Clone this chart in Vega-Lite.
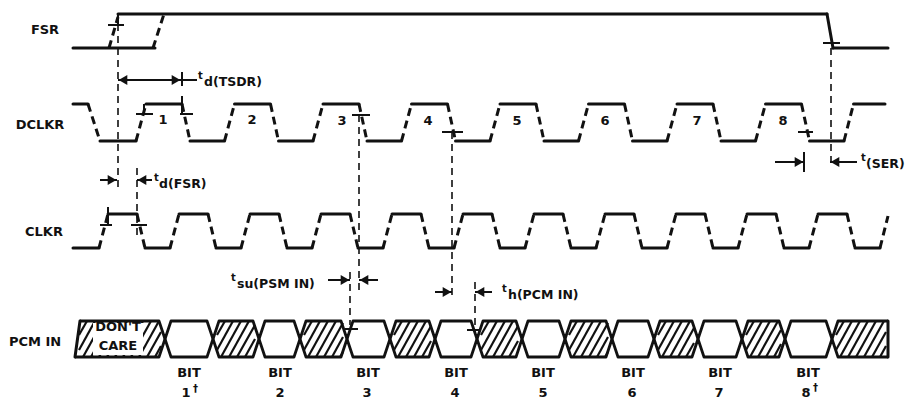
{
"$schema": "https://vega.github.io/schema/vega-lite/v6.json",
"width": 913, "height": 401, "padding": 0,
"autosize": {"type": "fit", "contains": "padding"},
"background": "white",
"config": {"view": {"stroke": null}},
"datasets": {
"flat": [
{"x":73,"y":48,"x2":155,"y2":48},{"x":118,"y":14,"x2":827,"y2":14},{"x":827,"y":14,"x2":833,"y2":48},{"x":833,"y":48,"x2":888,"y2":48},
{"x":73,"y":104,"x2":88,"y2":104},{"x":100,"y":141,"x2":136,"y2":141},{"x":146,"y":104,"x2":182,"y2":104},{"x":190,"y":141,"x2":224.5,"y2":141},
{"x":234.5,"y":104,"x2":270.5,"y2":104},{"x":278.5,"y":141,"x2":313,"y2":141},{"x":323,"y":104,"x2":359,"y2":104},{"x":367,"y":141,"x2":401.5,"y2":141},
{"x":411.5,"y":104,"x2":447.5,"y2":104},{"x":455.5,"y":141,"x2":490,"y2":141},{"x":500,"y":104,"x2":536,"y2":104},{"x":544,"y":141,"x2":578.5,"y2":141},
{"x":588.5,"y":104,"x2":624.5,"y2":104},{"x":632.5,"y":141,"x2":667,"y2":141},{"x":677,"y":104,"x2":713,"y2":104},{"x":721,"y":141,"x2":755.5,"y2":141},
{"x":765.5,"y":104,"x2":801.5,"y2":104},{"x":809.5,"y":141,"x2":844,"y2":141},{"x":853.5,"y":104,"x2":885,"y2":104},
{"x":73,"y":248,"x2":99,"y2":248},
{"x":108,"y":214,"x2":137,"y2":214},{"x":145,"y":248,"x2":170,"y2":248},
{"x":179,"y":214,"x2":208,"y2":214},{"x":216,"y":248,"x2":241,"y2":248},
{"x":250,"y":214,"x2":279,"y2":214},{"x":287,"y":248,"x2":312,"y2":248},
{"x":321,"y":214,"x2":350,"y2":214},{"x":358,"y":248,"x2":383,"y2":248},
{"x":392,"y":214,"x2":421,"y2":214},{"x":429,"y":248,"x2":454,"y2":248},
{"x":463,"y":214,"x2":492,"y2":214},{"x":500,"y":248,"x2":525,"y2":248},
{"x":534,"y":214,"x2":563,"y2":214},{"x":571,"y":248,"x2":596,"y2":248},
{"x":605,"y":214,"x2":634,"y2":214},{"x":642,"y":248,"x2":667,"y2":248},
{"x":676,"y":214,"x2":705,"y2":214},{"x":713,"y":248,"x2":738,"y2":248},
{"x":747,"y":214,"x2":776,"y2":214},{"x":784,"y":248,"x2":809,"y2":248},
{"x":818,"y":214,"x2":847,"y2":214},{"x":855,"y":248,"x2":880,"y2":248},
{"x":75,"y":357,"x2":80,"y2":321},{"x":888,"y":321,"x2":888,"y2":357}
],
"edge": [
{"x":109,"y":48,"x2":118,"y2":17},{"x":153,"y":48,"x2":164,"y2":14},
{"x":88,"y":104,"x2":100,"y2":141},{"x":136,"y":141,"x2":146,"y2":104},{"x":182,"y":104,"x2":190,"y2":141},{"x":224.5,"y":141,"x2":234.5,"y2":104},
{"x":270.5,"y":104,"x2":278.5,"y2":141},{"x":313,"y":141,"x2":323,"y2":104},{"x":359,"y":104,"x2":367,"y2":141},{"x":401.5,"y":141,"x2":411.5,"y2":104},
{"x":447.5,"y":104,"x2":455.5,"y2":141},{"x":490,"y":141,"x2":500,"y2":104},{"x":536,"y":104,"x2":544,"y2":141},{"x":578.5,"y":141,"x2":588.5,"y2":104},
{"x":624.5,"y":104,"x2":632.5,"y2":141},{"x":667,"y":141,"x2":677,"y2":104},{"x":713,"y":104,"x2":721,"y2":141},{"x":755.5,"y":141,"x2":765.5,"y2":104},
{"x":801.5,"y":104,"x2":809.5,"y2":141},{"x":844,"y":141,"x2":853.5,"y2":104},
{"x":99,"y":248,"x2":108,"y2":214},
{"x":137,"y":214,"x2":145,"y2":248},{"x":170,"y":248,"x2":179,"y2":214},
{"x":208,"y":214,"x2":216,"y2":248},{"x":241,"y":248,"x2":250,"y2":214},
{"x":279,"y":214,"x2":287,"y2":248},{"x":312,"y":248,"x2":321,"y2":214},
{"x":350,"y":214,"x2":358,"y2":248},{"x":383,"y":248,"x2":392,"y2":214},
{"x":421,"y":214,"x2":429,"y2":248},{"x":454,"y":248,"x2":463,"y2":214},
{"x":492,"y":214,"x2":500,"y2":248},{"x":525,"y":248,"x2":534,"y2":214},
{"x":563,"y":214,"x2":571,"y2":248},{"x":596,"y":248,"x2":605,"y2":214},
{"x":634,"y":214,"x2":642,"y2":248},{"x":667,"y":248,"x2":676,"y2":214},
{"x":705,"y":214,"x2":713,"y2":248},{"x":738,"y":248,"x2":747,"y2":214},
{"x":776,"y":214,"x2":784,"y2":248},{"x":809,"y":248,"x2":818,"y2":214},
{"x":847,"y":214,"x2":855,"y2":248},{"x":880,"y":248,"x2":888,"y2":216}
],
"guide": [
{"x":118,"y":24,"x2":118,"y2":190},{"x":831,"y":48,"x2":831,"y2":168},{"x":359,"y":115,"x2":359,"y2":290},{"x":350,"y":272,"x2":350,"y2":325},
{"x":452,"y":132,"x2":452,"y2":298},{"x":475,"y":282,"x2":475,"y2":332},{"x":137,"y":168,"x2":137,"y2":235}
],
"thin": [
{"x":118,"y":80,"x2":181,"y2":80},{"x":182,"y":80,"x2":197,"y2":80},{"x":100,"y":180,"x2":117,"y2":180},{"x":137,"y":180,"x2":152,"y2":180},
{"x":328,"y":280,"x2":350,"y2":280},{"x":359,"y":280,"x2":378,"y2":280},{"x":435,"y":292,"x2":452,"y2":292},{"x":475,"y":292,"x2":492,"y2":292},
{"x":775,"y":162,"x2":804,"y2":162},{"x":830,"y":162,"x2":857,"y2":162},
{"x":182,"y":72,"x2":182,"y2":86},{"x":182,"y":96,"x2":182,"y2":114},{"x":804,"y":152,"x2":804,"y2":172},{"x":118,"y":14,"x2":118,"y2":24},{"x":144,"y":104,"x2":144,"y2":114},{"x":108,"y":207,"x2":108,"y2":226},
{"x":108,"y":25,"x2":124,"y2":25},{"x":823,"y":43,"x2":840,"y2":43},{"x":136,"y":114,"x2":153,"y2":114},{"x":180,"y":114,"x2":193,"y2":114},
{"x":352,"y":115,"x2":370,"y2":115},{"x":442,"y":132,"x2":463,"y2":132},{"x":798,"y":132,"x2":813,"y2":132},{"x":100,"y":225,"x2":112,"y2":225},
{"x":131,"y":225,"x2":147,"y2":225},{"x":345,"y":329,"x2":358,"y2":329},{"x":467,"y":330,"x2":479,"y2":330}
],
"hatch": [
{"x":79,"y":335,"x2":87,"y2":321},{"x":79,"y":350,"x2":95,"y2":321},{"x":83,"y":357,"x2":103,"y2":321},{"x":91,"y":357,"x2":111,"y2":321},{"x":99,"y":357,"x2":119,"y2":321},{"x":107,"y":357,"x2":127,"y2":321},{"x":115,"y":357,"x2":135,"y2":321},{"x":123,"y":357,"x2":143,"y2":321},{"x":131,"y":357,"x2":151,"y2":321},{"x":139,"y":357,"x2":159,"y2":321},{"x":147,"y":357,"x2":161,"y2":332},{"x":155,"y":357,"x2":161,"y2":346},
{"x":217,"y":335,"x2":225,"y2":321},{"x":217,"y":350,"x2":233,"y2":321},{"x":221,"y":357,"x2":241,"y2":321},{"x":229,"y":357,"x2":249,"y2":321},{"x":237,"y":357,"x2":255,"y2":325},{"x":245,"y":357,"x2":255,"y2":339},
{"x":304,"y":335,"x2":312,"y2":321},{"x":304,"y":350,"x2":320,"y2":321},{"x":308,"y":357,"x2":328,"y2":321},{"x":316,"y":357,"x2":336,"y2":321},{"x":324,"y":357,"x2":343,"y2":323},{"x":332,"y":357,"x2":343,"y2":337},{"x":340,"y":357,"x2":343,"y2":352},
{"x":394,"y":335,"x2":402,"y2":321},{"x":394,"y":350,"x2":410,"y2":321},{"x":398,"y":357,"x2":418,"y2":321},{"x":406,"y":357,"x2":426,"y2":321},{"x":414,"y":357,"x2":431,"y2":326},{"x":422,"y":357,"x2":431,"y2":341},
{"x":481,"y":335,"x2":489,"y2":321},{"x":481,"y":350,"x2":497,"y2":321},{"x":485,"y":357,"x2":505,"y2":321},{"x":493,"y":357,"x2":513,"y2":321},{"x":501,"y":357,"x2":518,"y2":326},{"x":509,"y":357,"x2":518,"y2":341},
{"x":569,"y":335,"x2":577,"y2":321},{"x":569,"y":350,"x2":585,"y2":321},{"x":573,"y":357,"x2":593,"y2":321},{"x":581,"y":357,"x2":601,"y2":321},{"x":589,"y":357,"x2":608,"y2":323},{"x":597,"y":357,"x2":608,"y2":337},{"x":605,"y":357,"x2":608,"y2":352},
{"x":658,"y":335,"x2":666,"y2":321},{"x":658,"y":350,"x2":674,"y2":321},{"x":662,"y":357,"x2":682,"y2":321},{"x":670,"y":357,"x2":690,"y2":321},{"x":678,"y":357,"x2":694,"y2":328},{"x":686,"y":357,"x2":694,"y2":343},
{"x":746,"y":335,"x2":754,"y2":321},{"x":746,"y":350,"x2":762,"y2":321},{"x":750,"y":357,"x2":770,"y2":321},{"x":758,"y":357,"x2":778,"y2":321},{"x":766,"y":357,"x2":781,"y2":330},{"x":774,"y":357,"x2":781,"y2":344},
{"x":836,"y":335,"x2":844,"y2":321},{"x":836,"y":350,"x2":852,"y2":321},{"x":840,"y":357,"x2":860,"y2":321},{"x":848,"y":357,"x2":868,"y2":321},{"x":856,"y":357,"x2":876,"y2":321},{"x":864,"y":357,"x2":884,"y2":321},{"x":872,"y":357,"x2":886,"y2":332},{"x":880,"y":357,"x2":886,"y2":346}
],
"mask": [{"x":93,"y":323,"x2":143,"y2":355}],
"pcm": [
{"p":"t","x":80,"y":321},
{"p":"t","x":159,"y":321},{"p":"t","x":165,"y":339},{"p":"t","x":171,"y":321},
{"p":"t","x":207,"y":321},{"p":"t","x":213,"y":339},{"p":"t","x":219,"y":321},
{"p":"t","x":253,"y":321},{"p":"t","x":259,"y":339},{"p":"t","x":265,"y":321},
{"p":"t","x":294,"y":321},{"p":"t","x":300,"y":339},{"p":"t","x":306,"y":321},
{"p":"t","x":341,"y":321},{"p":"t","x":347,"y":339},{"p":"t","x":353,"y":321},
{"p":"t","x":384,"y":321},{"p":"t","x":390,"y":339},{"p":"t","x":396,"y":321},
{"p":"t","x":429,"y":321},{"p":"t","x":435,"y":339},{"p":"t","x":441,"y":321},
{"p":"t","x":471,"y":321},{"p":"t","x":477,"y":339},{"p":"t","x":483,"y":321},
{"p":"t","x":516,"y":321},{"p":"t","x":522,"y":339},{"p":"t","x":528,"y":321},
{"p":"t","x":559,"y":321},{"p":"t","x":565,"y":339},{"p":"t","x":571,"y":321},
{"p":"t","x":606,"y":321},{"p":"t","x":612,"y":339},{"p":"t","x":618,"y":321},
{"p":"t","x":648,"y":321},{"p":"t","x":654,"y":339},{"p":"t","x":660,"y":321},
{"p":"t","x":692,"y":321},{"p":"t","x":698,"y":339},{"p":"t","x":704,"y":321},
{"p":"t","x":736,"y":321},{"p":"t","x":742,"y":339},{"p":"t","x":748,"y":321},
{"p":"t","x":779,"y":321},{"p":"t","x":785,"y":339},{"p":"t","x":791,"y":321},
{"p":"t","x":826,"y":321},{"p":"t","x":832,"y":339},{"p":"t","x":838,"y":321},
{"p":"t","x":888,"y":321},
{"p":"b","x":75,"y":357},
{"p":"b","x":159,"y":357},{"p":"b","x":165,"y":339},{"p":"b","x":171,"y":357},
{"p":"b","x":207,"y":357},{"p":"b","x":213,"y":339},{"p":"b","x":219,"y":357},
{"p":"b","x":253,"y":357},{"p":"b","x":259,"y":339},{"p":"b","x":265,"y":357},
{"p":"b","x":294,"y":357},{"p":"b","x":300,"y":339},{"p":"b","x":306,"y":357},
{"p":"b","x":341,"y":357},{"p":"b","x":347,"y":339},{"p":"b","x":353,"y":357},
{"p":"b","x":384,"y":357},{"p":"b","x":390,"y":339},{"p":"b","x":396,"y":357},
{"p":"b","x":429,"y":357},{"p":"b","x":435,"y":339},{"p":"b","x":441,"y":357},
{"p":"b","x":471,"y":357},{"p":"b","x":477,"y":339},{"p":"b","x":483,"y":357},
{"p":"b","x":516,"y":357},{"p":"b","x":522,"y":339},{"p":"b","x":528,"y":357},
{"p":"b","x":559,"y":357},{"p":"b","x":565,"y":339},{"p":"b","x":571,"y":357},
{"p":"b","x":606,"y":357},{"p":"b","x":612,"y":339},{"p":"b","x":618,"y":357},
{"p":"b","x":648,"y":357},{"p":"b","x":654,"y":339},{"p":"b","x":660,"y":357},
{"p":"b","x":692,"y":357},{"p":"b","x":698,"y":339},{"p":"b","x":704,"y":357},
{"p":"b","x":736,"y":357},{"p":"b","x":742,"y":339},{"p":"b","x":748,"y":357},
{"p":"b","x":779,"y":357},{"p":"b","x":785,"y":339},{"p":"b","x":791,"y":357},
{"p":"b","x":826,"y":357},{"p":"b","x":832,"y":339},{"p":"b","x":838,"y":357},
{"p":"b","x":888,"y":357}
],
"heads": [
{"x":123,"y":80,"d":"l"},{"x":176,"y":80,"d":"r"},{"x":112,"y":180,"d":"r"},{"x":142,"y":180,"d":"l"},
{"x":345,"y":280,"d":"r"},{"x":364,"y":280,"d":"l"},{"x":447,"y":292,"d":"r"},{"x":480,"y":292,"d":"l"},
{"x":799,"y":162,"d":"r"},{"x":835,"y":162,"d":"l"}
],
"labels": [
{"x":45,"y":30,"t":"FSR"},{"x":40,"y":125,"t":"DCLKR"},{"x":44,"y":232,"t":"CLKR"},{"x":35,"y":342,"t":"PCM IN"}
],
"nums": [
{"x":163,"y":120,"t":"1"},{"x":252,"y":120,"t":"2"},{"x":342,"y":121,"t":"3"},{"x":428,"y":121,"t":"4"},
{"x":517,"y":121,"t":"5"},{"x":605,"y":121,"t":"6"},{"x":697,"y":121,"t":"7"},{"x":783,"y":121,"t":"8"}
],
"tmain": [
{"x":204,"y":82,"t":"d(TSDR)"},{"x":159,"y":184,"t":"d(FSR)"},{"x":866,"y":164,"t":"(SER)"},
{"x":237,"y":284,"t":"su(PSM IN)"},{"x":508,"y":295,"t":"h(PCM IN)"}
],
"tsmall": [
{"x":198,"y":76,"t":"t"},{"x":154,"y":178,"t":"t"},{"x":861,"y":158,"t":"t"},{"x":231,"y":278,"t":"t"},{"x":502,"y":289,"t":"t"}
],
"bits": [
{"x":189,"y":373,"t":"BIT"},{"x":280,"y":373,"t":"BIT"},{"x":368,"y":373,"t":"BIT"},{"x":456,"y":373,"t":"BIT"},
{"x":543,"y":373,"t":"BIT"},{"x":633,"y":373,"t":"BIT"},{"x":720,"y":373,"t":"BIT"},{"x":808,"y":373,"t":"BIT"},
{"x":186,"y":393,"t":"1"},{"x":280,"y":393,"t":"2"},{"x":367,"y":393,"t":"3"},{"x":455,"y":393,"t":"4"},
{"x":543,"y":393,"t":"5"},{"x":632,"y":393,"t":"6"},{"x":719,"y":393,"t":"7"},{"x":806,"y":393,"t":"8"},
{"x":118,"y":327,"t":"DON'T"},{"x":118,"y":346,"t":"CARE"}
],
"dagger": [{"x":193,"y":389,"t":"†"},{"x":813,"y":388,"t":"†"}]
},
"encoding": {
"x": {"field": "x", "type": "quantitative", "scale": {"domain": [0, 913], "nice": false, "zero": false}, "axis": null},
"y": {"field": "y", "type": "quantitative", "scale": {"domain": [0, 401], "nice": false, "zero": false, "reverse": true}, "axis": null}
},
"layer": [
{"data": {"name": "hatch"}, "mark": {"type": "rule", "color": "#111", "strokeWidth": 2.2}, "encoding": {"x2": {"field": "x2"}, "y2": {"field": "y2"}}},
{"data": {"name": "mask"}, "mark": {"type": "rect", "color": "white"}, "encoding": {"x2": {"field": "x2"}, "y2": {"field": "y2"}}},
{"data": {"name": "pcm"}, "mark": {"type": "line", "color": "#111", "strokeWidth": 2.8, "strokeJoin": "round"}, "encoding": {"detail": {"field": "p"}}},
{"data": {"name": "flat"}, "mark": {"type": "rule", "color": "#111", "strokeWidth": 3, "strokeCap": "round"}, "encoding": {"x2": {"field": "x2"}, "y2": {"field": "y2"}}},
{"data": {"name": "edge"}, "mark": {"type": "rule", "color": "#111", "strokeWidth": 3, "strokeDash": [8, 5]}, "encoding": {"x2": {"field": "x2"}, "y2": {"field": "y2"}}},
{"data": {"name": "guide"}, "mark": {"type": "rule", "color": "#111", "strokeWidth": 1.6, "strokeDash": [7, 5]}, "encoding": {"x2": {"field": "x2"}, "y2": {"field": "y2"}}},
{"data": {"name": "thin"}, "mark": {"type": "rule", "color": "#111", "strokeWidth": 2}, "encoding": {"x2": {"field": "x2"}, "y2": {"field": "y2"}}},
{"data": {"name": "heads"}, "mark": {"type": "point", "filled": true, "size": 100, "color": "#111", "opacity": 1}, "encoding": {"shape": {"field": "d", "type": "nominal", "scale": {"domain": ["l", "r"], "range": ["triangle-left", "triangle-right"]}, "legend": null}}},
{"data": {"name": "labels"}, "mark": {"type": "text", "font": "DejaVu Sans", "fontWeight": "bold", "fontSize": 13, "align": "center", "baseline": "middle", "color": "#111"}, "encoding": {"text": {"field": "t"}}},
{"data": {"name": "nums"}, "mark": {"type": "text", "font": "DejaVu Sans", "fontWeight": "bold", "fontSize": 13, "align": "center", "baseline": "middle", "color": "#111"}, "encoding": {"text": {"field": "t"}}},
{"data": {"name": "tmain"}, "mark": {"type": "text", "font": "DejaVu Sans", "fontWeight": "bold", "fontSize": 12.5, "align": "left", "baseline": "middle", "color": "#111"}, "encoding": {"text": {"field": "t"}}},
{"data": {"name": "tsmall"}, "mark": {"type": "text", "font": "DejaVu Sans", "fontWeight": "bold", "fontSize": 10, "align": "left", "baseline": "middle", "color": "#111"}, "encoding": {"text": {"field": "t"}}},
{"data": {"name": "bits"}, "mark": {"type": "text", "font": "DejaVu Sans", "fontWeight": "bold", "fontSize": 13, "align": "center", "baseline": "middle", "color": "#111"}, "encoding": {"text": {"field": "t"}}},
{"data": {"name": "dagger"}, "mark": {"type": "text", "font": "DejaVu Sans", "fontWeight": "bold", "fontSize": 10, "align": "left", "baseline": "middle", "color": "#111"}, "encoding": {"text": {"field": "t"}}}
]
}
